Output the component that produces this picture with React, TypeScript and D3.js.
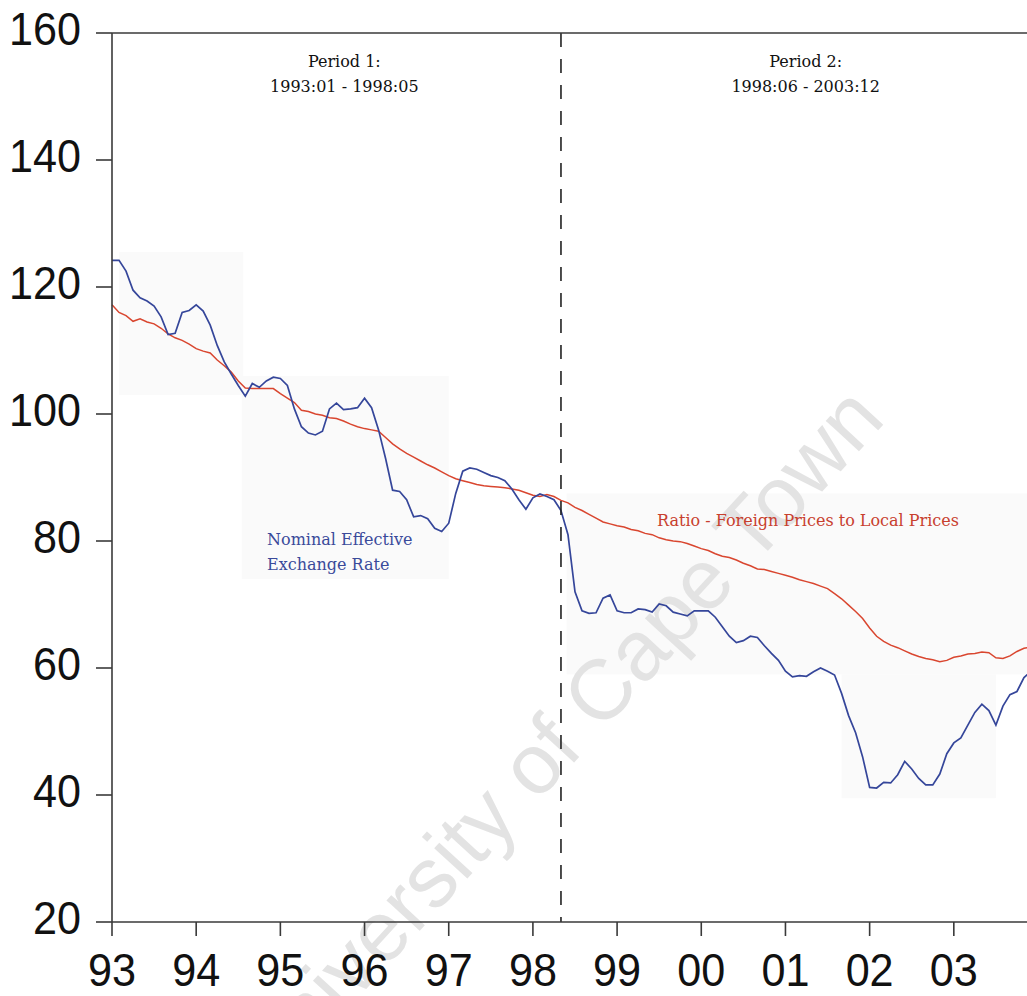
import React from "react";
import * as d3 from "d3";

// Monthly data 1993:01 .. 2003:12
const startYear = 1993;
const endYear = 2004;
const yearTicks = [1993, 1994, 1995, 1996, 1997, 1998, 1999, 2000, 2001, 2002, 2003];
const yearLabels = ["93", "94", "95", "96", "97", "98", "99", "00", "01", "02", "03"];
const valueTicks = [20, 40, 60, 80, 100, 120, 140, 160];
const breakIndex = 64; // 1998:05

const neer = [
  124.2, 124.2, 122.5, 119.5, 118.3, 117.8, 117.0, 115.3, 112.5, 112.7, 116.0, 116.3,
  117.2, 116.2, 114.0, 110.8, 108.2, 106.3, 104.5, 102.8, 104.8, 104.2, 105.2, 105.8,
  105.6, 104.5, 100.8, 98.0, 97.0, 96.7, 97.3, 100.8, 101.7, 100.7, 100.8, 101.0,
  102.5, 101.0, 97.5, 93.0, 88.0, 87.8, 86.5, 83.8, 84.0, 83.5, 82.0, 81.5,
  82.8, 87.5, 91.0, 91.5, 91.3, 90.8, 90.3, 90.0, 89.5, 88.2, 86.5, 85.0,
  86.8, 87.4, 87.0, 86.5, 84.8, 81.0, 72.0, 69.0, 68.6, 68.7, 71.0, 71.5,
  69.0, 68.7, 68.7, 69.3, 69.2, 68.8, 70.1, 69.8, 68.8, 68.5, 68.2, 69.0,
  69.0, 69.0, 68.0, 66.5, 65.0, 64.0, 64.3, 65.0, 64.8, 63.5, 62.3, 61.2,
  59.5, 58.6, 58.8, 58.7, 59.4, 60.0, 59.5, 58.9, 56.0, 52.5, 49.8, 46.0,
  41.2, 41.1, 42.0, 41.9, 43.2, 45.3, 44.1, 42.6, 41.6, 41.6, 43.3, 46.5,
  48.2, 49.0, 51.0, 53.0, 54.3, 53.3, 51.0, 54.0, 55.8, 56.3, 58.5, 59.5,
];

const ratio = [
  117.2, 116.0, 115.5, 114.6, 115.0, 114.5, 114.2, 113.5, 112.6, 112.0, 111.6, 111.0,
  110.3, 109.9, 109.6, 108.5, 107.6, 106.6, 105.2, 104.1, 104.0, 104.0, 104.0, 104.0,
  103.2, 102.5, 101.8, 100.6, 100.4, 100.0, 99.8, 99.4, 99.3, 98.9, 98.4, 98.0,
  97.7, 97.5, 97.3, 96.3, 95.3, 94.5, 93.8, 93.2, 92.6, 92.0, 91.5, 90.9,
  90.3, 89.8, 89.5, 89.2, 88.9, 88.7, 88.6, 88.5, 88.4, 88.2, 88.0, 87.6,
  87.2, 87.0, 87.3, 87.0, 86.4, 86.0, 85.3, 84.8, 84.2, 83.6, 83.0, 82.7,
  82.4, 82.2, 81.8, 81.6, 81.2, 81.0, 80.5, 80.2, 80.0, 79.9, 79.6, 79.2,
  78.8, 78.5, 78.0, 77.6, 77.4, 77.0, 76.5, 76.1, 75.6, 75.5, 75.2, 74.9,
  74.6, 74.3, 73.9, 73.6, 73.3, 72.9, 72.5, 71.7, 70.9, 69.9, 68.9, 67.8,
  66.3, 65.0, 64.2, 63.6, 63.2, 62.7, 62.2, 61.8, 61.5, 61.3, 61.0, 61.2,
  61.7, 61.9, 62.2, 62.3, 62.5, 62.4, 61.6, 61.5, 61.9, 62.6, 63.1, 63.3,
];

const periodLabels = [
  { lines: ["Period 1:", "1993:01 - 1998:05"], at: 1995.76 },
  { lines: ["Period 2:", "1998:06 - 2003:12"], at: 2001.24 },
];

const W = 1027;
const H = 996;
const left = 112;
const top = 33;
const bottom = 922;

export default function App() {
  const x = d3.scaleLinear().domain([startYear, endYear]).range([left, 1038]);
  const y = d3.scaleLinear().domain([20, 160]).range([bottom, top]);
  const t = (i: number) => startYear + i / 12;
  const line = d3
    .line<number>()
    .x((_, i) => x(t(i)))
    .y((d) => y(d));

  const axisColor = "#3a3a3a";
  const serif = "'DejaVu Serif', 'Liberation Serif', serif";
  const sans = "'Liberation Sans', Arial, sans-serif";

  return (
    <svg
      width={W}
      height={H}
      style={{ position: "absolute", left: 0, top: 0, background: "#fff" }}
    >
      {/* faint scanned label boxes */}
      <g fill="#fafafa">
        <rect x={x(t(1))} y={y(125.5)} width={x(t(18.7)) - x(t(1))} height={y(103) - y(125.5)} />
        <rect x={x(t(18.5))} y={y(106)} width={x(t(48)) - x(t(18.5))} height={y(74) - y(106)} />
        <rect x={x(t(64.8))} y={y(87.5)} width={W - x(t(64.8))} height={y(59) - y(87.5)} />
        <rect x={x(t(104))} y={y(59)} width={x(t(126)) - x(t(104))} height={y(39.5) - y(59)} />
      </g>

      {/* watermark */}
      <text
        x={578}
        y={758}
        transform="rotate(-47.5 578 758)"
        textAnchor="middle"
        fontFamily={sans}
        fontSize={85}
        fill="#e3e3e3"
      >
        University of Cape Town
      </text>

      {/* series */}
      <path d={line(ratio) || ""} fill="none" stroke="#d9462f" strokeWidth={1.5} />
      <path d={line(neer) || ""} fill="none" stroke="#35469a" strokeWidth={1.7} />

      {/* period break */}
      <line
        x1={x(t(breakIndex))}
        x2={x(t(breakIndex))}
        y1={top}
        y2={bottom}
        stroke="#222"
        strokeWidth={1.6}
        strokeDasharray="14 12"
      />

      {/* frame / axes */}
      <line x1={left} x2={W} y1={top} y2={top} stroke={axisColor} strokeWidth={1.6} />
      <line x1={left} x2={left} y1={top} y2={bottom} stroke={axisColor} strokeWidth={1.6} />
      <line x1={left} x2={W} y1={bottom} y2={bottom} stroke={axisColor} strokeWidth={1.6} />

      {valueTicks.map((v) => (
        <g key={v}>
          <line x1={96} x2={left} y1={y(v)} y2={y(v)} stroke={axisColor} strokeWidth={1.6} />
          <text
            x={81}
            y={y(v) + 12}
            textAnchor="end"
            fontFamily={sans}
            fontSize={47}
            textLength={String(v).length * 24}
            lengthAdjust="spacingAndGlyphs"
            fill="#111"
          >
            {v}
          </text>
        </g>
      ))}

      {yearTicks.map((yr, i) => (
        <g key={yr}>
          <line x1={x(yr)} x2={x(yr)} y1={bottom} y2={bottom + 14} stroke={axisColor} strokeWidth={1.6} />
          <text
            x={x(yr)}
            y={986}
            textAnchor="middle"
            fontFamily={sans}
            fontSize={46}
            textLength={48}
            lengthAdjust="spacingAndGlyphs"
            fill="#111"
          >
            {yearLabels[i]}
          </text>
        </g>
      ))}

      {/* period annotations */}
      {periodLabels.map((p) => (
        <g key={p.lines[0]} fontFamily={serif} fontSize={16} fill="#111" textAnchor="middle">
          <text x={x(p.at)} y={67}>{p.lines[0]}</text>
          <text x={x(p.at)} y={92}>{p.lines[1]}</text>
        </g>
      ))}

      {/* series labels */}
      <g fontFamily={serif} fontSize={16} fill="#3a4a9a">
        <text x={267} y={545}>Nominal Effective</text>
        <text x={267} y={570}>Exchange Rate</text>
      </g>
      <text x={657} y={526} fontFamily={serif} fontSize={16} fill="#c8402e">
        Ratio - Foreign Prices to Local Prices
      </text>
    </svg>
  );
}
